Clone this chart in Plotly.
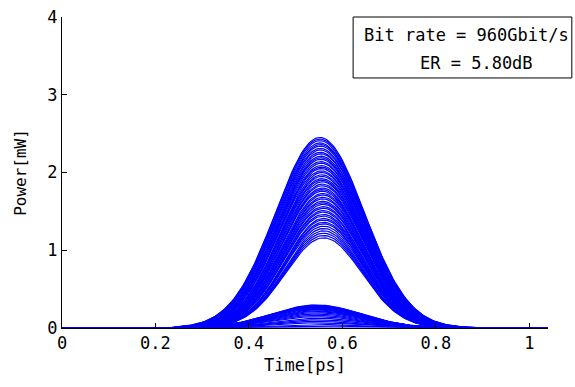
import numpy as np
import plotly.graph_objects as go

# ---- data ----
# "1" pulses: peak power [mW], centre [ps], Gaussian width [ps]
one_peaks = [2.45, 2.43, 2.41, 2.38, 2.36, 2.34, 2.31, 2.29, 2.26, 2.24,
             2.21, 2.19, 2.17, 2.14, 2.12, 2.09, 2.07, 2.05, 2.02, 2.00,
             1.97, 1.95, 1.92, 1.90, 1.88, 1.85, 1.83, 1.80, 1.78, 1.76,
             1.73, 1.71, 1.68, 1.66, 1.63, 1.61, 1.59, 1.56, 1.54, 1.51,
             1.49, 1.46, 1.44, 1.41, 1.39, 1.36, 1.34, 1.31, 1.28, 1.25,
             1.22, 1.19, 1.16]
one_centers = [0.552, 0.552, 0.552, 0.552, 0.553, 0.553, 0.553, 0.553, 0.553, 0.554,
               0.554, 0.554, 0.554, 0.554, 0.555, 0.555, 0.555, 0.555, 0.555, 0.556,
               0.556, 0.556, 0.556, 0.556, 0.557, 0.557, 0.557, 0.557, 0.557, 0.557,
               0.558, 0.558, 0.558, 0.558, 0.558, 0.558, 0.559, 0.559, 0.559, 0.559,
               0.559, 0.559, 0.559, 0.560, 0.560, 0.560, 0.560, 0.560, 0.560, 0.560,
               0.560, 0.560, 0.560]
one_widths = [0.095, 0.095, 0.094, 0.094, 0.094, 0.093, 0.093, 0.093, 0.092, 0.092,
              0.092, 0.091, 0.091, 0.091, 0.091, 0.090, 0.090, 0.090, 0.090, 0.089,
              0.089, 0.089, 0.089, 0.088, 0.088, 0.088, 0.088, 0.087, 0.087, 0.087,
              0.087, 0.086, 0.086, 0.086, 0.086, 0.085, 0.085, 0.085, 0.085, 0.084,
              0.084, 0.084, 0.084, 0.083, 0.083, 0.083, 0.083, 0.083, 0.082, 0.082,
              0.082, 0.082, 0.082]

# "0" pulses (residual power)
zero_peaks = [0.296, 0.292, 0.288, 0.284, 0.280, 0.275, 0.270, 0.264, 0.258, 0.250,
              0.242, 0.233, 0.222, 0.210, 0.196, 0.180, 0.163, 0.145, 0.126, 0.106,
              0.086, 0.066, 0.046, 0.026, 0.0]
zero_centers = [0.545] * len(zero_peaks)
zero_widths = [0.097] * len(zero_peaks)

time_range = [0.0, 1.04]
x_ticks = [0, 0.2, 0.4, 0.6, 0.8, 1.0]
x_tick_labels = ["0", "0.2", "0.4", "0.6", "0.8", "1"]
y_ticks = [0, 1, 2, 3, 4]
y_tick_labels = ["0", "1", "2", "3", "4"]
bit_rate_text = "Bit rate = 960Gbit/s"
er_text = "ER = 5.80dB"

# ---- build curves ----
t = np.linspace(time_range[0], time_range[1], 261)
xs, ys = [], []
for peaks, centers, widths in ((zero_peaks, zero_centers, zero_widths),
                               (one_peaks, one_centers, one_widths)):
    for a, c, s in zip(peaks, centers, widths):
        y = a * np.exp(-((t - c) ** 2) / (2 * s ** 2))
        xs.extend(t.tolist() + [None])
        ys.extend(y.tolist() + [None])

FONT = "DejaVu Sans Mono"

fig = go.Figure()
fig.add_trace(go.Scatter(x=xs, y=ys, mode="lines",
                         line=dict(color="#0000ff", width=1.2),
                         connectgaps=False, showlegend=False, hoverinfo="skip"))

axis_common = dict(showgrid=False, zeroline=False, showline=True, linecolor="black",
                   linewidth=1, ticks="inside", ticklen=5, tickcolor="black",
                   mirror=False, automargin=False,
                   tickfont=dict(family=FONT, size=17, color="black"))

fig.update_layout(
    width=575, height=387,
    margin=dict(l=62, r=27, t=17, b=59, autoexpand=False),
    paper_bgcolor="white", plot_bgcolor="white",
    font=dict(family=FONT, size=17, color="black"),
    xaxis=dict(range=time_range, tickvals=x_ticks, ticktext=x_tick_labels,
               title=dict(text="Time[ps]", font=dict(family=FONT, size=17), standoff=6),
               **axis_common),
    yaxis=dict(range=[0, 4], tickvals=y_ticks, ticktext=y_tick_labels,
               title=dict(text="Power[mW]", font=dict(family=FONT, size=16), standoff=16),
               **axis_common),
    shapes=[dict(type="rect", xref="paper", yref="paper",
                 x0=0.599, x1=1.049, y0=0.804, y1=1.0,
                 line=dict(color="black", width=1), fillcolor="white", layer="above")],
    annotations=[
        dict(text=bit_rate_text, xref="paper", yref="paper", x=0.617, y=0.942,
             xanchor="left", yanchor="middle", showarrow=False,
             font=dict(family=FONT, size=17, color="black")),
        dict(text=er_text, xref="paper", yref="paper", x=0.7325, y=0.852,
             xanchor="left", yanchor="middle", showarrow=False,
             font=dict(family=FONT, size=17, color="black")),
    ],
)

fig.write_html("out.html", config={"displayModeBar": False})

# remove the default page margin so the figure sits at the window's top-left corner
with open("out.html", "r", encoding="utf-8") as f:
    html = f.read()
html = html.replace("<head>", "<head><style>html,body{margin:0;padding:0;overflow:hidden;}</style>", 1)
with open("out.html", "w", encoding="utf-8") as f:
    f.write(html)
